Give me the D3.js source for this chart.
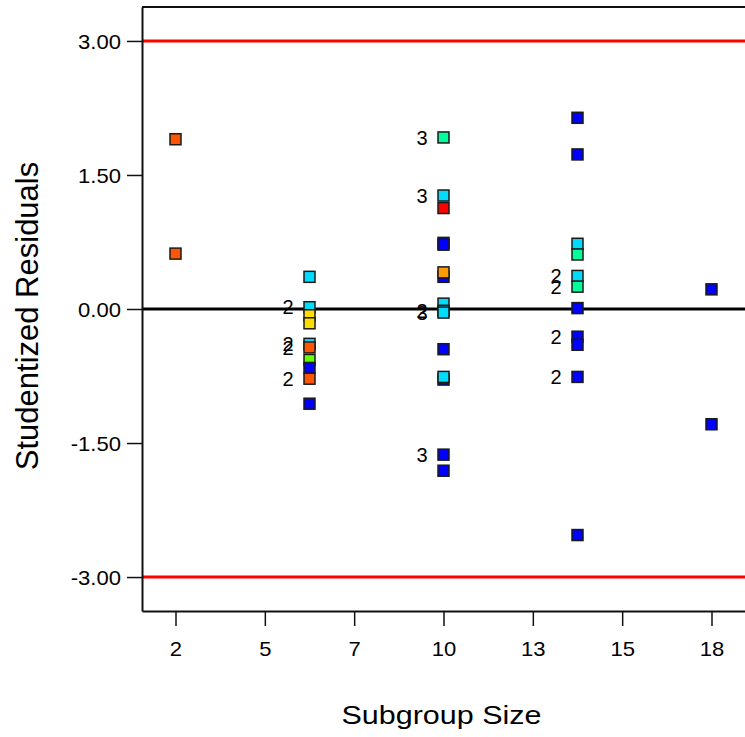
<!DOCTYPE html>
<html>
<head>
<meta charset="utf-8">
<script src="https://cdn.jsdelivr.net/npm/d3@7"></script>
<style>
  html, body { margin: 0; padding: 0; background: #fff; }
  svg { display: block; font-family: "Liberation Sans", Arial, Helvetica, sans-serif; }
</style>
</head>
<body>
<svg id="chart" width="745" height="737"></svg>
<script>
// ---- Data ----
const subgroupSize = [2, 2,
  6, 6, 6, 6, 6, 6, 6, 6, 6, 6,
  10, 10, 10, 10, 10, 10, 10, 10, 10, 10, 10, 10, 10, 10, 10,
  14, 14, 14, 14, 14, 14, 14, 14, 14, 14, 14,
  18, 18];
const residual = [1.90, 0.62,
  0.36, 0.02, -0.07, -0.16, -0.39, -0.43, -0.57, -0.66, -0.78, -1.06,
  1.92, 1.27, 1.13, 0.74, 0.72, 0.36, 0.41, 0.06, -0.02, -0.04, -0.45, -0.79, -0.76, -1.63, -1.81,
  2.14, 1.73, 0.73, 0.61, 0.37, 0.25, 0.01, -0.31, -0.40, -0.76, -2.53,
  0.22, -1.29];
const group = ["orange", "orange",
  "cyan", "cyan", "yellow", "yellow", "cyan", "orange", "lime", "blue", "orange", "blue",
  "spring", "cyan", "red", "blue", "blue", "blue", "amber", "cyan", "cyan", "cyan", "blue", "blue", "cyan", "blue", "blue",
  "blue", "blue", "cyan", "spring", "cyan", "spring", "blue", "blue", "blue", "blue", "blue",
  "blue", "blue"];
const countLabel = ["", "",
  "", "2", "", "", "2", "2", "", "", "2", "",
  "3", "3", "", "", "", "", "", "", "2", "3", "", "", "", "3", "",
  "", "", "", "", "2", "2", "", "2", "", "2", "",
  "", ""];
const groupNames = ["blue", "cyan", "orange", "amber", "yellow", "lime", "spring", "red"];
const groupColors = ["#0000ff", "#00dcff", "#ff5500", "#ff9900", "#ffdd00", "#66ff00", "#00ff99", "#ff0000"];
const yTicks = [-3, -1.5, 0, 1.5, 3];
const xTicks = [2, 2 + 16 / 6, 2 + 32 / 6, 10, 2 + 64 / 6, 2 + 80 / 6, 18];
const controlLimits = [3, -3];
const xTitle = "Subgroup Size";
const yTitle = "Studentized Residuals";

// ---- Layout ----
const plot = { left: 142, top: 7, right: 760, bottom: 611 };
const svg = d3.select("#chart");

const x = d3.scaleLinear().domain([1, 19]).range([plot.left, plot.left + 603]);
const y = d3.scaleLinear().domain([-3.38, 3.38]).range([plot.bottom, plot.top]);
const color = d3.scaleOrdinal().domain(groupNames).range(groupColors);

const points = subgroupSize.map((s, i) => ({ x: s, y: residual[i], g: group[i], lab: countLabel[i] }));

// frame (top line)
svg.append("line")
  .attr("x1", plot.left).attr("x2", plot.right)
  .attr("y1", plot.top).attr("y2", plot.top)
  .attr("stroke", "#111").attr("stroke-width", 2);

// control limits
svg.selectAll("line.limit").data(controlLimits).join("line")
  .attr("class", "limit")
  .attr("x1", plot.left).attr("x2", plot.right)
  .attr("y1", d => y(d)).attr("y2", d => y(d))
  .attr("stroke", "#ff0000").attr("stroke-width", 3);

// center line
svg.append("line")
  .attr("x1", plot.left).attr("x2", plot.right)
  .attr("y1", y(0)).attr("y2", y(0))
  .attr("stroke", "#000").attr("stroke-width", 3);

// Y axis
const fmtY = d => d3.format(".2f")(d).replace("\u2212", "-");
const yAxis = d3.axisLeft(y).tickValues(yTicks).tickFormat(fmtY).tickSize(15).tickSizeOuter(0).tickPadding(6);
const gy = svg.append("g").attr("transform", `translate(${plot.left},0)`).call(yAxis);
gy.select(".domain").attr("stroke", "#111").attr("stroke-width", 2);
gy.selectAll(".tick line").attr("stroke", "#111").attr("stroke-width", 1.5);
gy.selectAll(".tick text")
  .attr("font-size", 21).attr("fill", "#000")
  .attr("font-family", "'Liberation Sans', Arial, sans-serif")
  .attr("dy", "0.36em")
  .attr("transform", function () { const xx = -21; return `translate(${xx},0) scale(1.05,1) translate(${-xx},0)`; });

// X axis
const xAxis = d3.axisBottom(x).tickValues(xTicks).tickFormat(d3.format(".0f")).tickSize(15).tickSizeOuter(0).tickPadding(15);
const gx = svg.append("g").attr("transform", `translate(0,${plot.bottom})`).call(xAxis);
gx.select(".domain").attr("stroke", "#111").attr("stroke-width", 2);
gx.selectAll(".tick line").attr("stroke", "#111").attr("stroke-width", 1.5);
gx.selectAll(".tick text")
  .attr("font-size", 21).attr("fill", "#000")
  .attr("font-family", "'Liberation Sans', Arial, sans-serif")
  .attr("transform", "scale(1.05,1)");

// points
const S = 11;
svg.append("g").selectAll("rect").data(points).join("rect")
  .attr("x", d => x(d.x) - S / 2)
  .attr("y", d => y(d.y) - S / 2)
  .attr("width", S).attr("height", S)
  .attr("fill", d => color(d.g))
  .attr("stroke", "#1a1a1a").attr("stroke-width", 1.5);

// count labels
svg.append("g").selectAll("text").data(points.filter(d => d.lab)).join("text")
  .attr("x", d => x(d.x) - 16)
  .attr("y", d => y(d.y))
  .attr("dy", "0.36em")
  .attr("text-anchor", "end")
  .attr("font-size", 20)
  .attr("fill", "#000")
  .text(d => d.lab);

// titles
svg.append("text")
  .attr("transform", `translate(${(plot.left + 745) / 2 - 2},724) scale(1.22,1)`)
  .attr("text-anchor", "middle")
  .attr("font-size", 25)
  .attr("fill", "#000")
  .text(xTitle);

svg.append("text")
  .attr("transform", `translate(38,316) rotate(-90)`)
  .attr("text-anchor", "middle")
  .attr("font-size", 31)
  .attr("fill", "#000")
  .text(yTitle);
</script>
</body>
</html>
